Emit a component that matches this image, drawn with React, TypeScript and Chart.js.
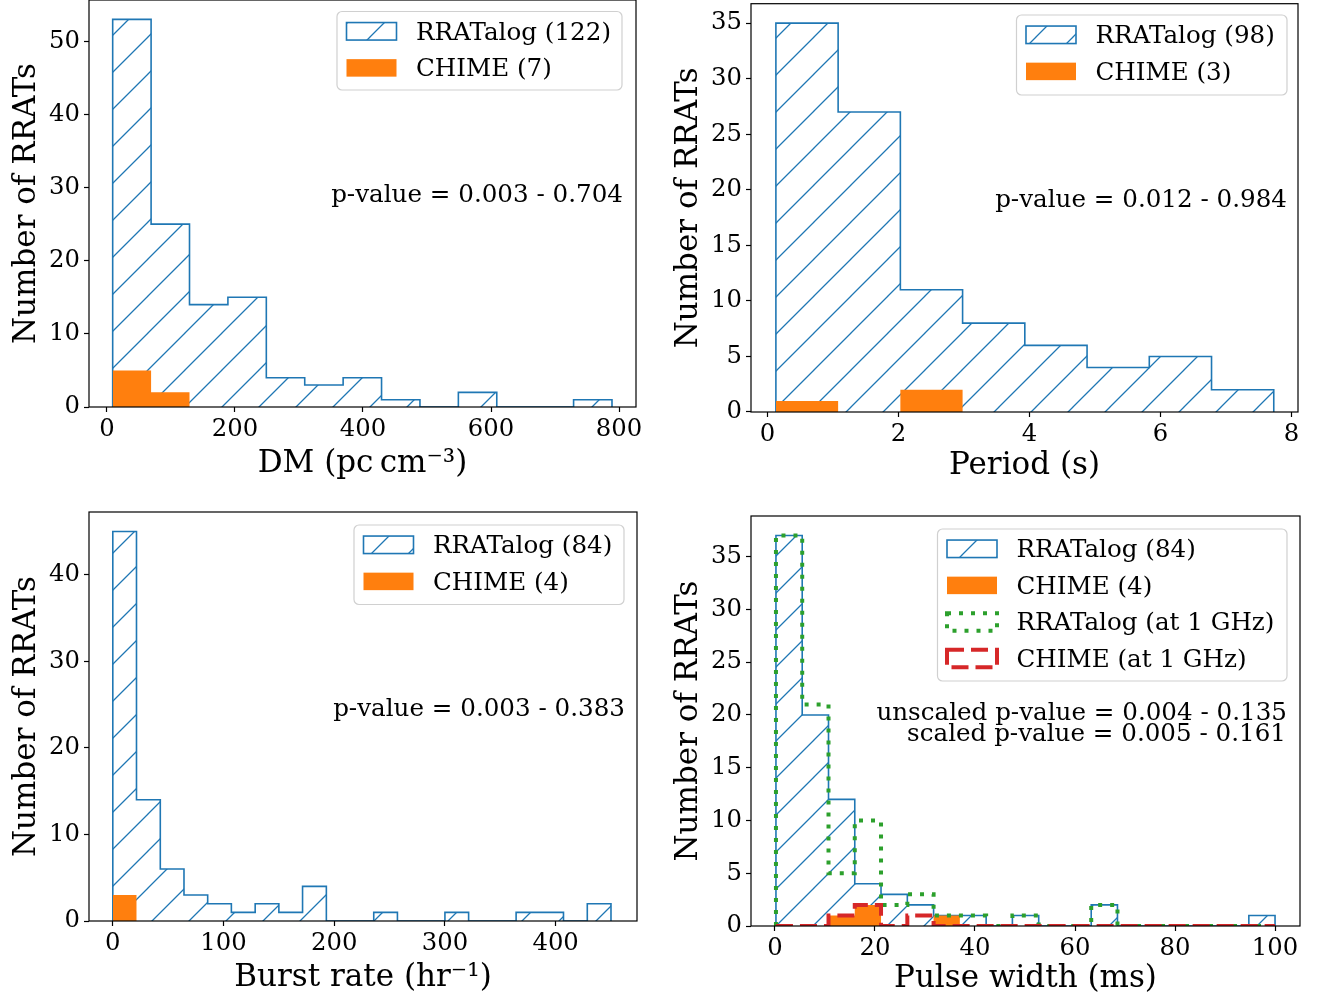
import React, { useEffect, useRef } from 'react';
import { Chart, registerables } from 'chart.js';

Chart.register(...registerables);

const W = 1330;
const H = 1000;
const FONT = '"DejaVu Serif", "Liberation Serif", serif';
const TICK_PX = 24.3;
const LABEL_PX = 31;
const LEGEND_PX = 24.6;

const BLUE = '#1f77b4';
const ORANGE = '#ff7f0e';
const GREEN = '#2ca02c';
const RED = '#d62728';

// ---- DM panel ----
const DM_EDGES = [9, 69, 129, 189, 249, 309, 369, 429, 489, 549, 609, 669, 729, 789];
const DM_RRATALOG = [53, 25, 14, 15, 4, 3, 4, 1, 0, 2, 0, 0, 1];
const DM_CHIME = [5, 2, 0, 0, 0, 0, 0, 0, 0, 0, 0, 0, 0];
const DM_TICKS = [0, 200, 400, 600, 800];
const DM_COUNT_TICKS = [0, 10, 20, 30, 40, 50];

// ---- Period panel ----
const PERIOD_EDGES = [0.13, 1.08, 2.03, 2.98, 3.93, 4.88, 5.83, 6.78, 7.73];
const PERIOD_RRATALOG = [35, 27, 11, 8, 6, 4, 5, 2];
const PERIOD_CHIME = [1, 0, 2, 0, 0, 0, 0, 0];
const PERIOD_TICKS = [0, 2, 4, 6, 8];
const PERIOD_COUNT_TICKS = [0, 5, 10, 15, 20, 25, 30, 35];

// ---- Burst rate panel ----
const RATE_EDGES = [0, 21.4, 42.9, 64.3, 85.7, 107.1, 128.6, 150, 171.4, 192.9, 214.3, 235.7, 257.1, 278.6, 300, 321.4, 342.9, 364.3, 385.7, 407.1, 428.6, 450];
const RATE_RRATALOG = [45, 14, 6, 3, 2, 1, 2, 1, 4, 0, 0, 1, 0, 0, 1, 0, 0, 1, 1, 0, 2];
const RATE_CHIME = [3, 0, 0, 0, 0, 0, 0, 0, 0, 0, 0, 0, 0, 0, 0, 0, 0, 0, 0, 0, 0];
const RATE_TICKS = [0, 100, 200, 300, 400];
const RATE_COUNT_TICKS = [0, 10, 20, 30, 40];

// ---- Pulse width panel ----
const WIDTH_EDGES = [0.2, 5.45, 10.71, 15.96, 21.21, 26.47, 31.72, 36.97, 42.23, 47.48, 52.74, 57.99, 63.24, 68.49, 73.75, 79.0, 84.25, 89.51, 94.76, 100.0];
const WIDTH_RRATALOG = [37, 20, 12, 4, 3, 2, 1, 1, 0, 1, 0, 0, 2, 0, 0, 0, 0, 0, 1];
const WIDTH_CHIME = [0, 0, 1, 2, 0, 0, 1, 0, 0, 0, 0, 0, 0, 0, 0, 0, 0, 0, 0];
const WIDTH_RRATALOG_1GHZ = [37, 21, 5, 10, 2, 3, 1, 1, 0, 1, 0, 0, 2, 0, 0, 0, 0, 0, 0];
const WIDTH_CHIME_1GHZ = [0, 0, 1, 2, 0, 1, 0, 0, 0, 0, 0, 0, 0, 0, 0, 0, 0, 0, 0];
const WIDTH_TICKS = [0, 20, 40, 60, 80, 100];
const WIDTH_COUNT_TICKS = [0, 5, 10, 15, 20, 25, 30, 35];

type Kind = 'hatch' | 'fill' | 'dotted' | 'dashed';
type Series = { edges: number[]; counts: number[]; kind: Kind; label: string };
type Box = { left: number; top: number; right: number; bottom: number };
type Note = { text: string; x: number; y: number };
type PanelSpec = {
  area: Box;
  yTitleX: number;
  xTitleY: number;
  xMin: number;
  xMax: number;
  xTicks: number[];
  yMax: number;
  yTicks: number[];
  xTitle: string;
  yTitle: string;
  series: Series[];
  legend: Box;
  notes: Note[];
};

const PANELS: PanelSpec[] = [
  {
    area: { left: 89, top: 0, right: 636, bottom: 407 },
    yTitleX: 27, xTitleY: 464,
    xMin: -28, xMax: 826.5, xTicks: DM_TICKS, yMax: 55.65, yTicks: DM_COUNT_TICKS,
    xTitle: 'DM (pc\u2009cm\u207B\u00B3)', yTitle: 'Number of RRATs',
    series: [
      { edges: DM_EDGES, counts: DM_RRATALOG, kind: 'hatch', label: 'RRATalog (122)' },
      { edges: DM_EDGES, counts: DM_CHIME, kind: 'fill', label: 'CHIME (7)' },
    ],
    legend: { left: 337, top: 11.5, right: 622, bottom: 90 },
    notes: [{ text: 'p-value = 0.003 - 0.704', x: 623, y: 196 }],
  },
  {
    area: { left: 751, top: 3.7, right: 1298, bottom: 412 },
    yTitleX: 689, xTitleY: 466,
    xMin: -0.25, xMax: 8.1, xTicks: PERIOD_TICKS, yMax: 36.75, yTicks: PERIOD_COUNT_TICKS,
    xTitle: 'Period (s)', yTitle: 'Number of RRATs',
    series: [
      { edges: PERIOD_EDGES, counts: PERIOD_RRATALOG, kind: 'hatch', label: 'RRATalog (98)' },
      { edges: PERIOD_EDGES, counts: PERIOD_CHIME, kind: 'fill', label: 'CHIME (3)' },
    ],
    legend: { left: 1016.5, top: 15, right: 1287, bottom: 95 },
    notes: [{ text: 'p-value = 0.012 - 0.984', x: 1287, y: 201 }],
  },
  {
    area: { left: 89, top: 512, right: 637, bottom: 921 },
    yTitleX: 27, xTitleY: 978,
    xMin: -21.5, xMax: 473.5, xTicks: RATE_TICKS, yMax: 47.25, yTicks: RATE_COUNT_TICKS,
    xTitle: 'Burst rate (hr\u207B\u00B9)', yTitle: 'Number of RRATs',
    series: [
      { edges: RATE_EDGES, counts: RATE_RRATALOG, kind: 'hatch', label: 'RRATalog (84)' },
      { edges: RATE_EDGES, counts: RATE_CHIME, kind: 'fill', label: 'CHIME (4)' },
    ],
    legend: { left: 354, top: 525, right: 624, bottom: 604.5 },
    notes: [{ text: 'p-value = 0.003 - 0.383', x: 625, y: 710 }],
  },
  {
    area: { left: 751, top: 516, right: 1300, bottom: 926 },
    yTitleX: 689, xTitleY: 979,
    xMin: -4.79, xMax: 104.99, xTicks: WIDTH_TICKS, yMax: 38.85, yTicks: WIDTH_COUNT_TICKS,
    xTitle: 'Pulse width (ms)', yTitle: 'Number of RRATs',
    series: [
      { edges: WIDTH_EDGES, counts: WIDTH_RRATALOG, kind: 'hatch', label: 'RRATalog (84)' },
      { edges: WIDTH_EDGES, counts: WIDTH_CHIME, kind: 'fill', label: 'CHIME (4)' },
      { edges: WIDTH_EDGES, counts: WIDTH_RRATALOG_1GHZ, kind: 'dotted', label: 'RRATalog (at 1 GHz)' },
      { edges: WIDTH_EDGES, counts: WIDTH_CHIME_1GHZ, kind: 'dashed', label: 'CHIME (at 1 GHz)' },
    ],
    legend: { left: 937.5, top: 529, right: 1287, bottom: 681 },
    notes: [
      { text: 'unscaled p-value = 0.004 - 0.135', x: 1287, y: 714 },
      { text: 'scaled p-value = 0.005 - 0.161', x: 1286, y: 735 },
    ],
  },
];

function makeHatch(): CanvasPattern | string {
  const s = 37;
  const c = document.createElement('canvas');
  c.width = s;
  c.height = s;
  const g = c.getContext('2d');
  if (!g) return 'rgba(0,0,0,0)';
  g.strokeStyle = BLUE;
  g.lineWidth = 1.3;
  g.beginPath();
  for (const off of [-s, 0, s]) {
    g.moveTo(-3 + off, s + 3);
    g.lineTo(s + 3 + off, -3);
  }
  g.stroke();
  return g.createPattern(c, 'repeat') || BLUE;
}

function stepPoints(edges: number[], counts: number[]) {
  const pts: { x: number; y: number }[] = [{ x: edges[0], y: 0 }];
  counts.forEach((c, i) => pts.push({ x: edges[i], y: c }));
  pts.push({ x: edges[edges.length - 1], y: 0 });
  return pts;
}

function datasetFor(s: Series, hatch: CanvasPattern | string): any {
  const base = {
    type: 'line',
    label: s.label,
    data: stepPoints(s.edges, s.counts),
    stepped: true,
    pointRadius: 0,
    pointHoverRadius: 0,
    tension: 0,
    borderCapStyle: 'butt',
    borderJoinStyle: 'miter',
  };
  switch (s.kind) {
    case 'hatch':
      return { ...base, borderColor: BLUE, borderWidth: 1.6, backgroundColor: hatch, fill: 'origin', order: 4 };
    case 'fill':
      return { ...base, borderColor: 'rgba(0,0,0,0)', borderWidth: 0, backgroundColor: ORANGE, fill: 'origin', order: 3 };
    case 'dotted':
      return { ...base, borderColor: GREEN, borderWidth: 4, borderDash: [4, 8], backgroundColor: 'rgba(0,0,0,0)', fill: false, order: 2 };
    default:
      return { ...base, borderColor: RED, borderWidth: 4, borderDash: [17, 7], backgroundColor: 'rgba(0,0,0,0)', fill: false, order: 1 };
  }
}

function roundRectPath(ctx: CanvasRenderingContext2D, x: number, y: number, w: number, h: number, r: number) {
  ctx.beginPath();
  ctx.moveTo(x + r, y);
  ctx.lineTo(x + w - r, y);
  ctx.arcTo(x + w, y, x + w, y + r, r);
  ctx.lineTo(x + w, y + h - r);
  ctx.arcTo(x + w, y + h, x + w - r, y + h, r);
  ctx.lineTo(x + r, y + h);
  ctx.arcTo(x, y + h, x, y + h - r, r);
  ctx.lineTo(x, y + r);
  ctx.arcTo(x, y, x + r, y, r);
  ctx.closePath();
}

function decorPlugin(p: PanelSpec, hatch: CanvasPattern | string) {
  return {
    id: 'decor',
    afterDraw(chart: any) {
      const ctx: CanvasRenderingContext2D = chart.ctx;
      const ca = chart.chartArea;
      ctx.save();
      // axes frame (all four spines)
      ctx.setLineDash([]);
      ctx.strokeStyle = '#000';
      ctx.lineWidth = 1.2;
      ctx.strokeRect(ca.left, ca.top, ca.right - ca.left, ca.bottom - ca.top);

      // legend
      const L = p.legend;
      roundRectPath(ctx, L.left, L.top, L.right - L.left, L.bottom - L.top, 5);
      ctx.fillStyle = 'rgba(255,255,255,0.8)';
      ctx.fill();
      ctx.strokeStyle = '#d0d0d0';
      ctx.lineWidth = 1.2;
      ctx.stroke();
      p.series.forEach((s, i) => {
        const cy = L.top + 19.8 + i * 36.6;
        const hw = 50;
        const hh = 17.5;
        const hx = L.left + 9.5;
        const hy = cy - hh / 2;
        ctx.save();
        if (s.kind === 'hatch') {
          ctx.fillStyle = hatch as any;
          ctx.fillRect(hx, hy, hw, hh);
          ctx.strokeStyle = BLUE;
          ctx.lineWidth = 1.6;
          ctx.setLineDash([]);
          ctx.strokeRect(hx, hy, hw, hh);
        } else if (s.kind === 'fill') {
          ctx.fillStyle = ORANGE;
          ctx.fillRect(hx, hy, hw, hh);
        } else if (s.kind === 'dotted') {
          ctx.strokeStyle = GREEN;
          ctx.lineWidth = 4;
          ctx.lineCap = 'butt';
          ctx.setLineDash([4, 8]);
          ctx.strokeRect(hx, hy, hw, hh);
        } else {
          ctx.strokeStyle = RED;
          ctx.lineWidth = 4;
          ctx.lineCap = 'butt';
          ctx.setLineDash([17, 7]);
          ctx.strokeRect(hx, hy, hw, hh);
        }
        ctx.restore();
        ctx.fillStyle = '#000';
        ctx.font = `${LEGEND_PX}px ${FONT}`;
        ctx.textAlign = 'left';
        ctx.textBaseline = 'middle';
        ctx.fillText(s.label, L.left + 79, cy + 2);
      });

      // annotation texts
      ctx.fillStyle = '#000';
      ctx.font = `${LEGEND_PX}px ${FONT}`;
      ctx.textAlign = 'right';
      ctx.textBaseline = 'middle';
      p.notes.forEach((n) => ctx.fillText(n.text, n.x, n.y));
      ctx.restore();
    },
  };
}

function buildConfig(p: PanelSpec, hatch: CanvasPattern | string): any {
  const labelLine = LABEL_PX * 1.2;
  const padLeft = p.yTitleX - labelLine / 2;
  const yAxisW = p.area.left - padLeft;
  const xScaleBottom = p.xTitleY + labelLine / 2;
  const xAxisH = xScaleBottom - p.area.bottom;
  const tickFont = { family: FONT, size: TICK_PX };
  const titleFont = { family: FONT, size: LABEL_PX };
  const grid = {
    display: true,
    drawOnChartArea: false,
    drawTicks: true,
    tickLength: 5,
    tickColor: '#000',
    tickWidth: 1.2,
  };
  return {
    type: 'line',
    data: { datasets: p.series.map((s) => datasetFor(s, hatch)) },
    options: {
      responsive: false,
      maintainAspectRatio: false,
      animation: false,
      devicePixelRatio: 1,
      events: [],
      layout: {
        autoPadding: false,
        padding: {
          left: padLeft,
          top: p.area.top,
          right: W - p.area.right,
          bottom: H - xScaleBottom,
        },
      },
      plugins: {
        legend: { display: false },
        tooltip: { enabled: false },
        title: { display: false },
      },
      scales: {
        x: {
          type: 'linear',
          bounds: 'data',
          min: p.xMin,
          max: p.xMax,
          afterBuildTicks: (s: any) => {
            s.ticks = p.xTicks.map((v) => ({ value: v }));
          },
          afterFit: (s: any) => {
            s.height = xAxisH;
            s.paddingLeft = 0;
            s.paddingRight = 0;
          },
          grid,
          border: { display: false },
          ticks: { color: '#000', font: tickFont, padding: 3.5, maxRotation: 0, autoSkip: false },
          title: { display: true, text: p.xTitle, color: '#000', font: titleFont, padding: 0 },
        },
        y: {
          type: 'linear',
          bounds: 'data',
          min: 0,
          max: p.yMax,
          afterBuildTicks: (s: any) => {
            s.ticks = p.yTicks.map((v) => ({ value: v }));
          },
          afterFit: (s: any) => {
            s.width = yAxisW;
            s.paddingTop = 0;
            s.paddingBottom = 0;
          },
          grid,
          border: { display: false },
          ticks: { color: '#000', font: tickFont, padding: 4, autoSkip: false },
          title: { display: true, text: p.yTitle, color: '#000', font: titleFont, padding: 0 },
        },
      },
    },
    plugins: [decorPlugin(p, hatch)],
  };
}

function Panel({ spec }: { spec: PanelSpec }) {
  const ref = useRef<HTMLCanvasElement | null>(null);
  useEffect(() => {
    const canvas = ref.current;
    if (!canvas) return;
    const hatch = makeHatch();
    const chart = new Chart(canvas, buildConfig(spec, hatch));
    return () => chart.destroy();
  }, [spec]);
  return (
    <canvas
      ref={ref}
      width={W}
      height={H}
      style={{ position: 'absolute', left: 0, top: 0, width: W, height: H }}
    />
  );
}

export default function App() {
  return (
    <div
      style={{
        position: 'absolute',
        left: 0,
        top: 0,
        width: W,
        height: H,
        background: '#ffffff',
        overflow: 'hidden',
      }}
    >
      {PANELS.map((p, i) => (
        <Panel key={i} spec={p} />
      ))}
    </div>
  );
}
